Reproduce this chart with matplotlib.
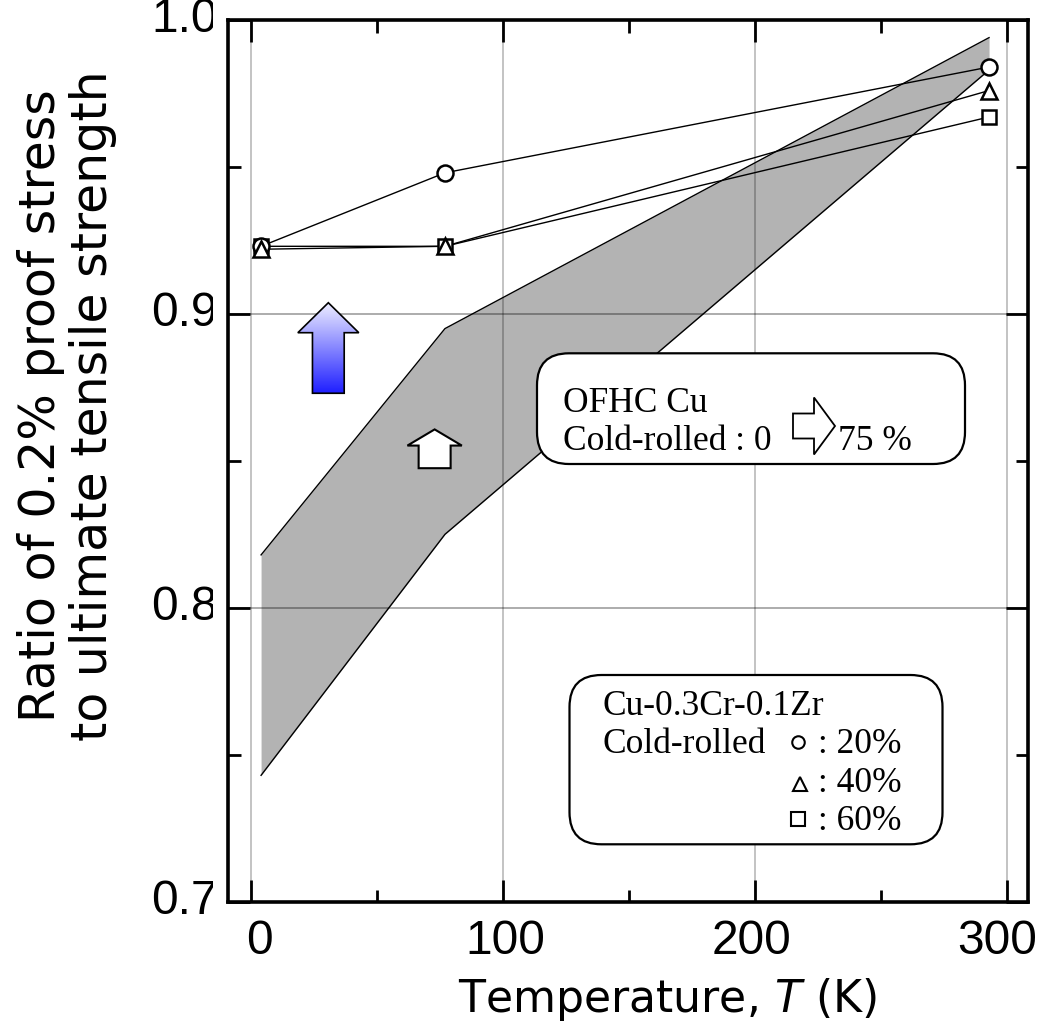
import numpy as np
import matplotlib
matplotlib.use("Agg")
import matplotlib.pyplot as plt
from matplotlib.patches import Polygon, FancyBboxPatch
from matplotlib.colors import LinearSegmentedColormap
from matplotlib.transforms import Bbox, TransformedBbox, blended_transform_factory

# Cu-0.3Cr-0.1Zr, cold-rolled 20/40/60 %
temps = [4, 77, 293]
ratio_20 = [0.923, 0.948, 0.984]
ratio_40 = [0.922, 0.923, 0.976]
ratio_60 = [0.923, 0.923, 0.967]

# OFHC Cu band (0 -> 75 % cold rolled)
band_T = [4, 77, 293]
band_hi = [0.818, 0.895, 0.994]
band_lo = [0.743, 0.825, 0.983]

xticks = [0, 100, 200, 300]
xtick_labels = ["0", "100", "200", "300"]
yticks = [0.7, 0.8, 0.9, 1.0]
ytick_labels = ["0.7", "0.8", "0.9", "1.0"]

W, H = 1039, 1023
fig = plt.figure(figsize=(W / 100, H / 100), dpi=100)
ax = fig.add_axes([228 / W, 1 - 901.7 / H, 800 / W, 881.7 / H])
px = fig.dpi_scale_trans  # inches; P() converts image pixels (top-left origin)


def P(x, y):
    return (x / 100, (H - y) / 100)


def up_arrow(xc, tip, head_base, bottom, head_half, shaft_half):
    return [(xc, tip), (xc + head_half, head_base), (xc + shaft_half, head_base),
            (xc + shaft_half, bottom), (xc - shaft_half, bottom),
            (xc - shaft_half, head_base), (xc - head_half, head_base)]


# band
ax.fill_between(band_T, band_lo, band_hi, color="#b3b3b3", lw=0, zorder=1)
ax.plot(band_T, band_hi, color="k", lw=1.0, zorder=1.5)
ax.plot(band_T, band_lo, color="k", lw=1.0, zorder=1.5)

# series
for vals in (ratio_20, ratio_40, ratio_60):
    ax.plot(temps, vals, color="k", lw=1.0, zorder=3)
ax.plot(temps, ratio_60, ls="none", marker="s", ms=10.5, mfc="white", mec="k", mew=1.8, zorder=4)
ax.plot(temps, ratio_20, ls="none", marker="o", ms=11.5, mfc="white", mec="k", mew=1.8, zorder=4)
ax.plot(temps, ratio_40, ls="none", marker="^", ms=11.5, mfc="white", mec="k", mew=1.8, zorder=4)

# blue gradient arrow
blue = Polygon(up_arrow(30.7, 0.9038, 0.8936, 0.873, 12.1, 6.3), closed=True,
               fc="none", ec="k", lw=1.2, zorder=3.6)
ax.add_patch(blue)
cmap = LinearSegmentedColormap.from_list("bl", ["#1f1fff", "#efefff"])
grad = np.linspace(0, 1, 256).reshape(-1, 1)
im = ax.imshow(grad, extent=[18, 43.5, 0.873, 0.9038], origin="lower", aspect="auto",
               cmap=cmap, zorder=3.5)
im.set_clip_path(blue)

# white arrow on band
ax.add_patch(Polygon(up_arrow(72.9, 0.8607, 0.8552, 0.8475, 10.8, 6.35), closed=True,
                     fc="white", ec="k", lw=1.5, zorder=3.5))

ax.set_xlim(-9.13, 308.46)
ax.set_ylim(0.7, 1.0)

# axes styling
for s in ax.spines.values():
    s.set_linewidth(2.6)
ax.set_xticks(xticks)
ax.set_xticks([50, 150, 250], minor=True)
ax.set_yticks(yticks)
ax.set_yticks([0.75, 0.85, 0.95], minor=True)
ax.tick_params(which="both", direction="in", top=True, right=True, width=2.0,
               labelbottom=False, labelleft=False)
ax.tick_params(which="major", length=16)
ax.tick_params(which="minor", length=9)
ax.set_axisbelow(False)
ax.xaxis.grid(True, color="k", alpha=0.28, lw=1.2)
ax.yaxis.grid(True, color="k", alpha=0.38, lw=1.2)

# x tick labels (slightly pulled toward the middle, as in the original)
sans = dict(fontsize=34.5, family="Liberation Sans")
for v, lab in zip(xticks, xtick_labels):
    xp = ax.transData.transform((v, 0.7))[0]
    xp = 259 + (xp - 251) * 0.977
    fig.text(*P(xp, 954), lab, transform=px, ha="center", va="baseline", **sans)

# y tick labels, clipped where the frame starts
clip = TransformedBbox(Bbox([[0, 0], [2.13, H / 100]]), px)
tr = blended_transform_factory(px, ax.transData)
for v, lab in zip(yticks, ytick_labels):
    t = fig.text(2.18, v, lab, transform=tr, ha="right", va="center", **sans)
    t.set_clip_box(clip)
    t.set_clip_on(True)

# axis titles
fig.text(*P(458, 1012), "Temperature, $T$ (K)", transform=px, ha="left", va="baseline",
         fontsize=31.8, family="DejaVu Sans")
fig.text(*P(67, 406), "Ratio of 0.2% proof stress\nto ultimate tensile strength",
         transform=px, rotation=90, ha="center", va="center", fontsize=35.3,
         family="DejaVu Sans", linespacing=1.12, multialignment="center")

# OFHC box
serif = dict(family="Liberation Serif", fontsize=25.5, transform=px, va="baseline",
             ha="left", zorder=6)
b1 = FancyBboxPatch(P(537, 464), 4.28, 1.107, boxstyle="round,pad=0,rounding_size=0.32",
                    transform=px, fc="white", ec="k", lw=1.6, zorder=5)
ax.add_artist(b1)
b1.set_clip_on(False)
ax.text(*P(563, 411.7), "OFHC Cu", **serif)
ax.text(*P(563, 450), "Cold-rolled : 0", **serif)
ax.text(*P(838, 450), "75 %", **serif)
ay, sh, hh = 426, 12.5, 28.5
harrow = Polygon([P(793, ay - sh), P(814, ay - sh), P(814, ay - hh), P(835, ay),
                  P(814, ay + hh), P(814, ay + sh), P(793, ay + sh)], closed=True,
                 transform=px, fc="white", ec="k", lw=1.3, zorder=6)
ax.add_artist(harrow)
harrow.set_clip_on(False)

# Cu-Cr-Zr box
b2 = FancyBboxPatch(P(569.5, 844.3), 3.73, 1.693, boxstyle="round,pad=0,rounding_size=0.32",
                    transform=px, fc="white", ec="k", lw=1.6, zorder=5)
ax.add_artist(b2)
b2.set_clip_on(False)
ax.text(*P(602, 715), "Cu-0.3Cr-0.1Zr", **serif)
ax.text(*P(602, 752.7), "Cold-rolled", **serif)
ax.text(*P(818, 752.7), ": 20%", **serif)
ax.text(*P(818, 791.7), ": 40%", **serif)
ax.text(*P(818, 830), ": 60%", **serif)
for (mx, my), m, ms in [((797.7, 741.7), "o", 9), ((800, 783.5), "^", 10.5),
                        ((798, 819.3), "s", 9.5)]:
    ax.plot(*P(mx, my), marker=m, ms=ms, mfc="white", mec="k", mew=1.5,
            transform=px, clip_on=False, zorder=6)

fig.savefig("out.png", dpi=100)
